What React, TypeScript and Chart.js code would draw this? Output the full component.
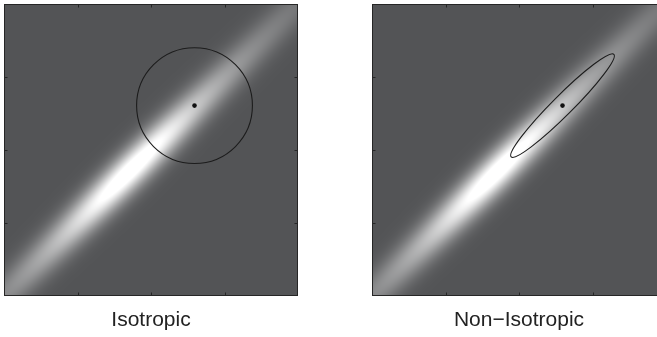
import React, { useEffect, useRef } from 'react';
import { Chart, registerables } from 'chart.js';

Chart.register(...registerables);

// ---- data ----
const panelTitles = ['Isotropic', 'Non\u2212Isotropic'];
const axisRange = [0, 1];
const tickValues = [0.25, 0.5, 0.75];
const backgroundRGB = [83, 84, 86];
const ridgePeak = [0.43, 0.43];
const ridgeAngleDeg = [45];
const ridgeAlongScale = [0.375];
const ridgeCrossSigma = [0.04];
const ridgeGain = [1.15];
const centerPoint = [0.648, 0.652];
const circleRadius = [0.197];
const ellipseAxes = [0.247, 0.034];
const ellipseAngleDeg = [45];

const heatPlugin = {
  id: 'heat',
  beforeDatasetsDraw(chart: any) {
    const { ctx, chartArea } = chart;
    const xs = chart.scales.x;
    const ys = chart.scales.y;
    const L = Math.round(chartArea.left);
    const T = Math.round(chartArea.top);
    const W = Math.round(chartArea.right) - L;
    const H = Math.round(chartArea.bottom) - T;
    const img = ctx.createImageData(W, H);
    const th = (ridgeAngleDeg[0] * Math.PI) / 180;
    const c = Math.cos(th);
    const s = Math.sin(th);
    const yVals: number[] = [];
    for (let j = 0; j < H; j++) yVals.push(ys.getValueForPixel(T + j + 0.5));
    for (let i = 0; i < W; i++) {
      const xv = xs.getValueForPixel(L + i + 0.5);
      for (let j = 0; j < H; j++) {
        const dx = xv - ridgePeak[0];
        const dy = yVals[j] - ridgePeak[1];
        const da = dx * c + dy * s;
        const dc = -dx * s + dy * c;
        const g =
          Math.exp(-(dc * dc) / (2 * ridgeCrossSigma[0] * ridgeCrossSigma[0])) /
          (1 + (da / ridgeAlongScale[0]) * (da / ridgeAlongScale[0]));
        const w = Math.min(1, ridgeGain[0] * g);
        const k = (j * W + i) * 4;
        img.data[k] = backgroundRGB[0] + (255 - backgroundRGB[0]) * w;
        img.data[k + 1] = backgroundRGB[1] + (255 - backgroundRGB[1]) * w;
        img.data[k + 2] = backgroundRGB[2] + (255 - backgroundRGB[2]) * w;
        img.data[k + 3] = 255;
      }
    }
    ctx.putImageData(img, L, T);
  },
};

const shapePlugin = {
  id: 'shape',
  afterDatasetsDraw(chart: any, _args: any, opts: any) {
    const { ctx } = chart;
    const xs = chart.scales.x;
    const ys = chart.scales.y;
    const px = xs.getPixelForValue(centerPoint[0]);
    const py = ys.getPixelForValue(centerPoint[1]);
    ctx.save();
    ctx.strokeStyle = '#1c1c1c';
    ctx.lineWidth = 1.1;
    ctx.beginPath();
    if (opts.kind === 'circle') {
      const rx = xs.getPixelForValue(centerPoint[0] + circleRadius[0]) - px;
      ctx.arc(px, py, Math.abs(rx), 0, Math.PI * 2);
    } else {
      const a = xs.getPixelForValue(centerPoint[0] + ellipseAxes[0]) - px;
      const b = xs.getPixelForValue(centerPoint[0] + ellipseAxes[1]) - px;
      ctx.ellipse(px, py, Math.abs(a), Math.abs(b), (-ellipseAngleDeg[0] * Math.PI) / 180, 0, Math.PI * 2);
    }
    ctx.stroke();
    ctx.restore();
  },
};

const framePlugin = {
  id: 'frame',
  afterDraw(chart: any) {
    const { ctx, chartArea } = chart;
    const xs = chart.scales.x;
    const ys = chart.scales.y;
    const L = Math.round(chartArea.left) + 0.5;
    const T = Math.round(chartArea.top) + 0.5;
    const R = Math.round(chartArea.right) - 0.5;
    const B = Math.round(chartArea.bottom) - 0.5;
    ctx.save();
    ctx.strokeStyle = '#262626';
    ctx.lineWidth = 1;
    ctx.strokeRect(L, T, R - L, B - T);
    ctx.beginPath();
    const len = 3;
    tickValues.forEach((v) => {
      const x = Math.round(xs.getPixelForValue(v)) + 0.5;
      ctx.moveTo(x, B);
      ctx.lineTo(x, B - len);
      ctx.moveTo(x, T);
      ctx.lineTo(x, T + len);
      const y = Math.round(ys.getPixelForValue(v)) + 0.5;
      ctx.moveTo(L, y);
      ctx.lineTo(L + len, y);
      ctx.moveTo(R, y);
      ctx.lineTo(R - len, y);
    });
    ctx.stroke();
    ctx.restore();
  },
};

function Panel({ index, left }: { index: number; left: number }) {
  const ref = useRef<HTMLCanvasElement>(null);
  useEffect(() => {
    if (!ref.current) return;
    const chart = new Chart(ref.current, {
      type: 'scatter',
      data: {
        datasets: [
          {
            data: [{ x: centerPoint[0], y: centerPoint[1] }],
            backgroundColor: '#111',
            borderColor: '#111',
            pointRadius: 2.3,
            pointBorderWidth: 0,
          },
        ],
      },
      options: {
        animation: false,
        responsive: false,
        events: [],
        layout: { padding: { left: 4, top: 3, right: 32, bottom: 3.8 } },
        scales: {
          x: { type: 'linear', min: axisRange[0], max: axisRange[1], display: false },
          y: { type: 'linear', min: axisRange[0], max: axisRange[1], display: false },
        },
        plugins: {
          legend: { display: false },
          tooltip: { enabled: false },
          title: {
            display: true,
            position: 'bottom',
            text: panelTitles[index],
            color: '#222',
            font: { family: "'Liberation Sans', Arial, sans-serif", size: 21, weight: 'normal' },
            padding: { top: 12, bottom: 0 },
          },
          shape: { kind: index === 0 ? 'circle' : 'ellipse' },
        } as any,
      },
      plugins: [heatPlugin, shapePlugin, framePlugin],
    });
    return () => chart.destroy();
  }, [index]);
  return (
    <canvas
      ref={ref}
      width={330}
      height={337}
      style={{ position: 'absolute', left, top: 0, width: 330, height: 337 }}
    />
  );
}

export default function App() {
  return (
    <div
      style={{
        position: 'fixed',
        left: 0,
        top: 0,
        width: 657,
        height: 337,
        overflow: 'hidden',
        background: '#fff',
      }}
    >
      <Panel index={0} left={0} />
      <Panel index={1} left={368} />
    </div>
  );
}
